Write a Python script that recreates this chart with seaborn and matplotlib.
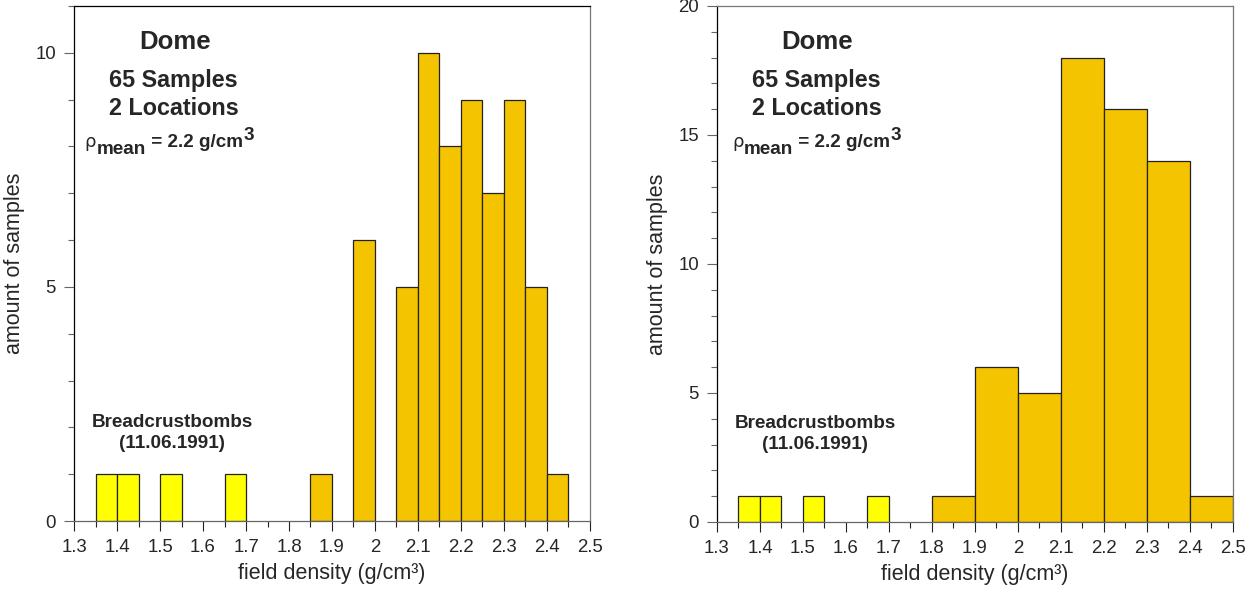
import seaborn as sns
import numpy as np
from matplotlib import pyplot as plt
from matplotlib.ticker import MultipleLocator, FuncFormatter


# bin midpoints (g/cm3) and counts
bomb_density = [1.375, 1.425, 1.525, 1.675]
bomb_count = [1, 1, 1, 1]

dome_density_fine = [1.875, 1.975, 2.075, 2.125, 2.175, 2.225, 2.275, 2.325, 2.375, 2.425]
dome_count_fine = [1, 6, 5, 10, 8, 9, 7, 9, 5, 1]

dome_density_coarse = [1.85, 1.95, 2.05, 2.15, 2.25, 2.35, 2.45]
dome_count_coarse = [1, 6, 5, 18, 16, 14, 1]

orange = '#f5c400'
yellow = '#ffff00'

sns.set_theme(style="ticks")
plt.rcParams['font.family'] = ['Liberation Sans', 'DejaVu Sans']


def hist_panel(ax, dens, counts, binwidth, ymax, ymajor, top_color, rho_x):
    sns.histplot(x=bomb_density, weights=bomb_count, binwidth=0.05, binrange=(1.35, 1.70),
                 color=yellow, alpha=1, edgecolor='#222222', linewidth=0.9, ax=ax)
    sns.histplot(x=dens, weights=counts, binwidth=binwidth,
                 binrange=(min(dens) - binwidth / 2, max(dens) + binwidth / 2),
                 color=orange, alpha=1, edgecolor='#222222', linewidth=0.9, ax=ax)
    # drop empty bins so the baseline stays clean
    for p in list(ax.patches):
        if p.get_height() == 0:
            p.remove()

    ax.set_xlim(1.3, 2.5)
    ax.set_ylim(0, ymax)
    ax.xaxis.set_major_locator(MultipleLocator(0.1))
    ax.xaxis.set_minor_locator(MultipleLocator(0.05))
    ax.yaxis.set_major_locator(MultipleLocator(ymajor))
    ax.yaxis.set_minor_locator(MultipleLocator(1))
    ax.xaxis.set_major_formatter(FuncFormatter(lambda v, p: f'{v:g}'))
    ax.tick_params(which='major', length=7, width=0.8, labelsize=13.4, pad=6)
    ax.tick_params(which='minor', length=4.3, width=0.8)
    ax.tick_params(axis='y', which='both', color='#666666')
    ax.tick_params(axis='x', which='both', color='#222222')

    for side in ['left', 'right', 'top', 'bottom']:
        ax.spines[side].set_visible(True)
        ax.spines[side].set_linewidth(0.9)
    ax.spines['left'].set_color('black')
    ax.spines['top'].set_color(top_color)
    ax.spines['right'].set_color('#777777')
    ax.spines['bottom'].set_color('#666666')

    ax.set_xlabel('field density (g/cm³)', fontsize=15.5, labelpad=5)
    ax.set_ylabel('amount of samples', fontsize=15.5, labelpad=7)

    tr = ax.transAxes
    ax.text(0.195, 0.916, 'Dome', transform=tr, ha='center', va='baseline',
            fontsize=18.5, fontweight='bold')
    ax.text(0.193, 0.843, '65 Samples', transform=tr, ha='center', va='baseline',
            fontsize=16.8, fontweight='bold')
    ax.text(0.193, 0.788, '2 Locations', transform=tr, ha='center', va='baseline',
            fontsize=16.8, fontweight='bold')

    # rho_mean = 2.2 g/cm3 built from pieces
    t1 = ax.text(rho_x, 0.727, 'ρ', transform=tr, va='baseline', fontsize=13,
                 family=['DejaVu Sans'])
    t2 = ax.annotate('mean', xy=(1, 0), xycoords=t1, xytext=(0.3, -2.5),
                     textcoords='offset points', va='baseline', fontsize=13.6, fontweight='bold')
    t3 = ax.annotate(' = 2.2 g/cm', xy=(1, 0), xycoords=t2, xytext=(0, 7.9),
                     textcoords='offset points', va='baseline', fontsize=13.6, fontweight='bold')
    ax.annotate('3', xy=(1, 0), xycoords=t3, xytext=(0.3, 8.0),
                textcoords='offset points', va='baseline', fontsize=13.6, fontweight='bold')

    ax.text(0.19, 0.182, 'Breadcrustbombs', transform=tr, ha='center', va='baseline',
            fontsize=13.6, fontweight='bold')
    ax.text(0.19, 0.142, '(11.06.1991)', transform=tr, ha='center', va='baseline',
            fontsize=13.6, fontweight='bold')


fig = plt.figure(figsize=(12.46, 5.96), dpi=100)
ax1 = fig.add_axes([0.0594, 0.1258, 0.4141, 0.8641])
ax2 = fig.add_axes([0.5754, 0.1242, 0.4141, 0.8658])

hist_panel(ax1, dome_density_fine, dome_count_fine, 0.05, 11, 5, 'black', 0.021)
hist_panel(ax2, dome_density_coarse, dome_count_coarse, 0.1, 20, 5, '#777777', 0.029)

fig.savefig('out.png', dpi=100)
